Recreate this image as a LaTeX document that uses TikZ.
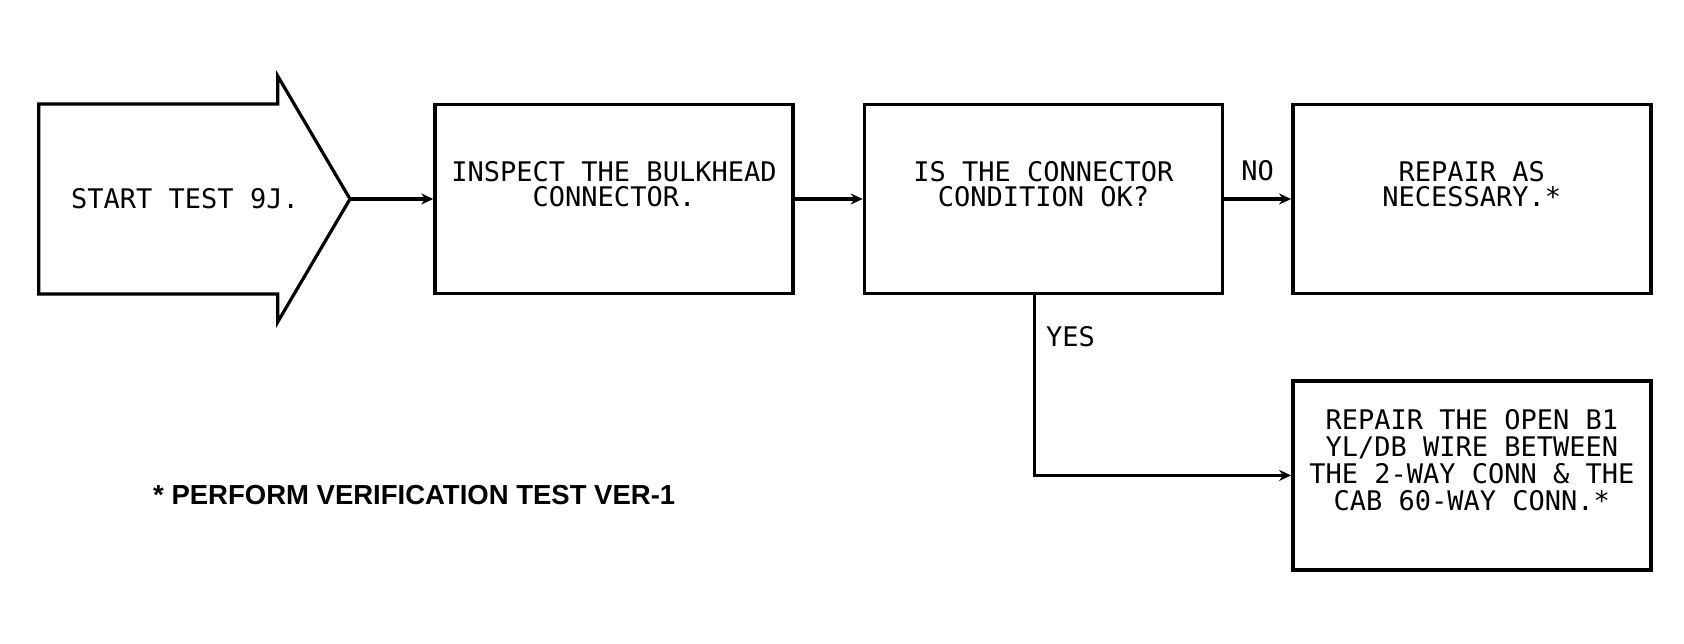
\documentclass[tikz,border=0pt]{standalone}
\usepackage{fontspec}
\newfontfamily\plotfont{DejaVu Sans Mono}
\newfontfamily\notefont{Liberation Sans}
\usepackage{tikz}
\usetikzlibrary{positioning,arrows.meta}

\tikzstyle{stepbox} = [draw, line width=3.4pt, minimum width=358pt, minimum height=189pt]
\tikzstyle{boxtext} = [align=center, font=\plotfont\fontsize{27}{25}\selectfont]
\tikzstyle{lbl} = [inner sep=2pt, font=\plotfont\fontsize{27}{25}\selectfont]
\tikzstyle{arrow} = [line width=3.2pt,-{Stealth[length=12pt,width=11pt]}]

\begin{document}
\begin{tikzpicture}[x=1pt,y=-1pt]
\useasboundingbox (0,0) rectangle (1684,644);

%% Start arrow
\draw[line width=3.2pt] (38.7,104) -- (277.7,104) -- (277.7,76) -- (350,199)
    -- (277.7,322) -- (277.7,294) -- (38.7,294) -- cycle;
\coordinate (tip) at (350,199);
\node[boxtext] (start) at (185,199) {START TEST 9J.};

%% Boxes
\node[stepbox] (inspect) at (614,199) {};
\node[stepbox, right=68pt of inspect] (cond) {};
\node[stepbox, right=67pt of cond] (repair) {};
\node[stepbox, below=84pt of repair] (fix) {};

\node[boxtext] (inspect-text) at ([yshift=15pt]inspect.center)
    {INSPECT THE BULKHEAD\\CONNECTOR.};
\node[boxtext] (cond-text) at ([yshift=15pt]cond.center)
    {IS THE CONNECTOR\\CONDITION OK?};
\node[boxtext] (repair-text) at ([yshift=15pt]repair.center)
    {REPAIR AS\\NECESSARY.*};
\node[boxtext, font=\plotfont\fontsize{27}{27}\selectfont] (fix-text) at ([yshift=15.7pt]fix.center)
    {REPAIR THE OPEN B1\\YL/DB WIRE BETWEEN\\THE 2-WAY CONN \& THE\\CAB 60-WAY CONN.*};

%% Links
\draw[arrow] (tip) -- (inspect);
\draw[arrow] (inspect) -- (cond);
\draw[arrow] (cond) -- node[lbl, above=15pt] (no) {NO} (repair);
\draw[arrow] ([xshift=-9pt]cond.south) |- node[lbl, pos=0.114, right=8pt] (yes) {YES} (fix);

%% Footnote
\node[inner sep=0pt, anchor=west, font=\notefont\bfseries\fontsize{27.5}{30}\selectfont] (note)
    at (153,495) {* PERFORM VERIFICATION TEST VER-1};

\end{tikzpicture}
\end{document}
